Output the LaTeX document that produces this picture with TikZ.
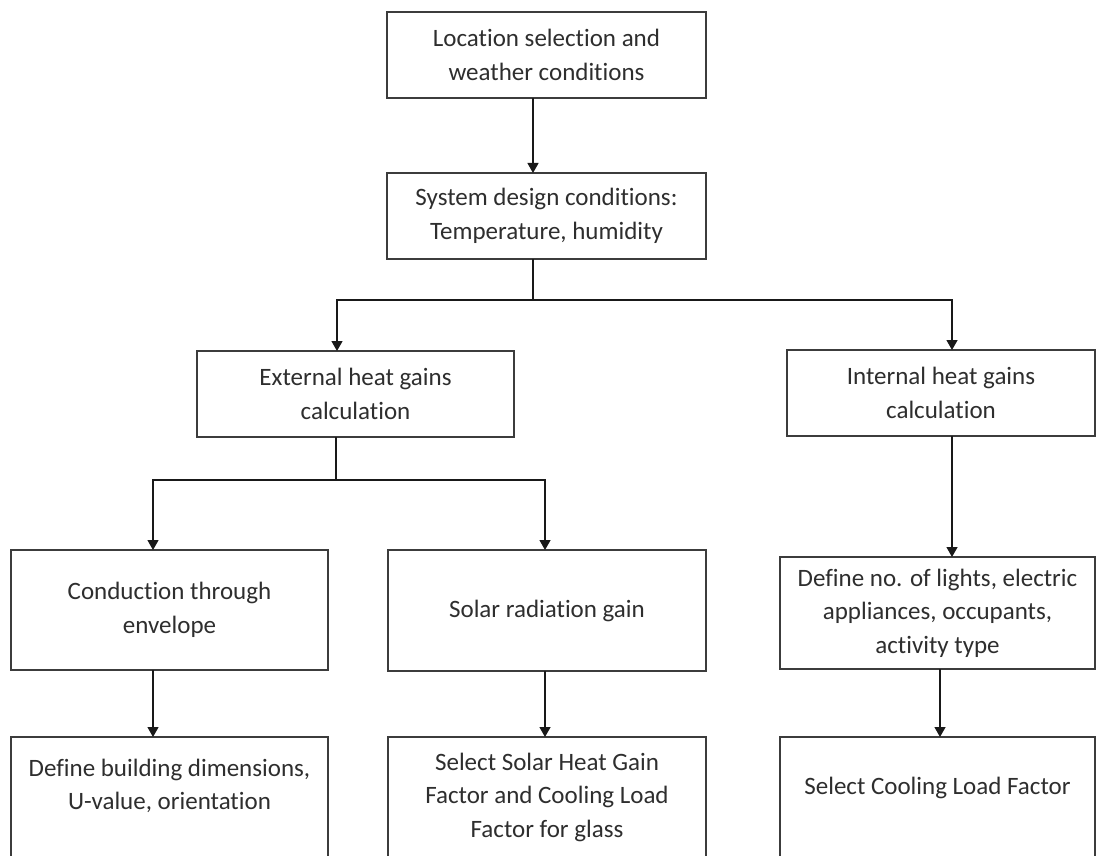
\documentclass[tikz,border=0pt]{standalone}
\usepackage{fontspec}
\setmainfont[Ligatures=NoCommon]{Carlito}
\usetikzlibrary{arrows.meta}
\definecolor{txt}{HTML}{2E2E2E}
\definecolor{edge}{HTML}{3C3C3C}
\begin{document}
\begin{tikzpicture}[x=1pt,y=-1pt,
  box/.style={draw=edge,line width=1.3pt,inner sep=0pt,outer sep=0pt,align=center,
    text=txt,font=\fontsize{25}{33.5}\selectfont},
  arr/.style={draw=black!90,line width=1.3pt,-{Triangle[width=11pt,length=10pt]}},
  ln/.style={draw=black!90,line width=1.3pt}]
\useasboundingbox[fill=white] (0,0) rectangle (1096,856);
\clip (0,0) rectangle (1096,856);
% nodes
\node[box,minimum width=319pt,minimum height=86pt] (b1) at (546.5,55) {Location selection and\\weather conditions};
\node[box,minimum width=319pt,minimum height=86pt] (b2) at (546.5,216) {System design conditions:\\Temperature, humidity};
\node[box,minimum width=317pt,minimum height=86pt] (b3) at (355.5,394) {External heat gains\\calculation};
\node[box,minimum width=308pt,minimum height=86pt] (b4) at (941,393) {Internal heat gains\\calculation};
\node[box,minimum width=317pt,minimum height=120pt] (b5) at (169.5,610) {Conduction through\\envelope};
\node[box,minimum width=318pt,minimum height=121pt] (b6) at (547,610.5) {Solar radiation gain};
\node[box,minimum width=315pt,minimum height=112pt] (b7) at (937.5,613) {Define no. of lights, electric\\appliances, occupants,\\activity type};
\node[box,minimum width=317pt,minimum height=130pt] (b8) at (169.5,802) {Define building dimensions,\\U-value, orientation\\[-8pt]\strut};
\node[box,minimum width=318pt,minimum height=120pt] (b9) at (547,797) {Select Solar Heat Gain\\Factor and Cooling Load\\Factor for glass};
\node[box,minimum width=315pt,minimum height=130pt] (b10) at (937.5,802) {Select Cooling Load Factor\\[-12pt]\strut};
% junction coordinates
\coordinate (a1) at (533,0);
\coordinate (j1) at (533,300);
\coordinate (jl) at (337,300);
\coordinate (jr) at (952,300);
\coordinate (j2) at (336,480);
\coordinate (kl) at (153,480);
\coordinate (kr) at (545,480);
\coordinate (a7) at (940,0);
% connectors
\draw[arr] (b1.south -| a1) -- (b2.north -| a1);
\draw[ln] (b2.south -| j1) -- (j1);
\draw[arr] (j1) -- (jl) -- (b3.north -| jl);
\draw[arr] (j1) -- (jr) -- (b4.north -| jr);
\draw[ln] (b3.south -| j2) -- (j2);
\draw[arr] (j2) -- (kl) -- (b5.north -| kl);
\draw[arr] (j2) -- (kr) -- (b6.north -| kr);
\draw[arr] (b4.south -| jr) -- (b7.north -| jr);
\draw[arr] (b5.south -| kl) -- (b8.north -| kl);
\draw[arr] (b6.south -| kr) -- (b9.north -| kr);
\draw[arr] (b7.south -| a7) -- (b10.north -| a7);
\end{tikzpicture}
\end{document}
